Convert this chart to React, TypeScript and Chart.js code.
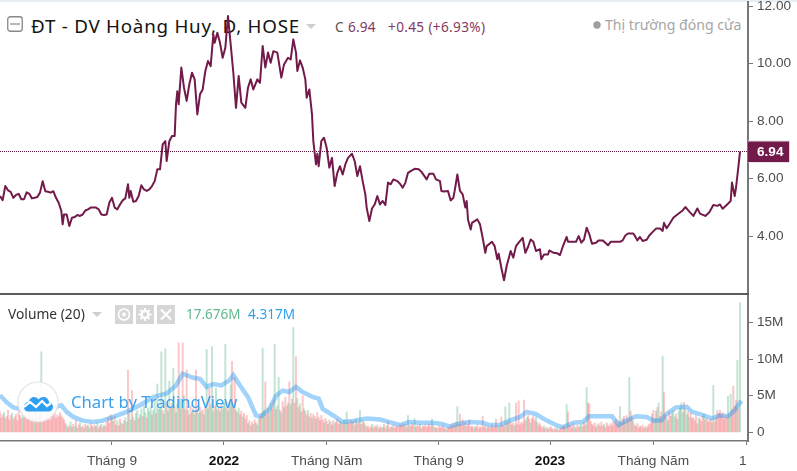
import React, { useEffect, useRef } from "react";
import { Chart, registerables } from "chart.js";

Chart.register(...registerables);

// Trading-day index / close price
const pricePoints: [number, number][] = [
  [0,5.39],[2,5.25],[4,5.74],[6,5.59],[8,5.54],[10,5.33],[12,5.43],[14,5.47],[16,5.28],[18,5.28],[20,5.52],[22,5.47],[24,5.31],[26,5.33],[28,5.36],[30,5.51],[32,5.91],[34,5.56],[36,5.54],[38,5.51],
  [40,5.56],[42,5.33],[44,5.16],[46,4.87],[47,4.41],[48,4.75],[50,4.75],[52,4.35],[54,4.64],[56,4.66],[58,4.73],[60,4.70],[62,4.75],[64,4.89],[66,4.93],[68,4.99],[70,4.99],[72,4.99],[74,4.93],[76,4.75],
  [78,4.73],[80,4.75],[82,5.16],[84,5.33],[86,4.99],[88,4.93],[90,5.10],[92,5.24],[94,5.31],[96,5.80],[97,5.33],[98,5.57],[100,5.19],[102,5.22],[104,5.39],[106,5.77],[108,5.62],[110,5.57],[112,5.62],[114,5.74],
  [116,5.91],[118,6.32],[120,6.32],[122,7.19],[124,7.30],[125,6.61],[127,7.30],[129,7.48],[131,7.48],[132,8.58],[133,9.04],[134,8.58],[136,9.86],[138,9.16],[140,8.70],[142,9.28],[144,9.68],[146,9.45],[148,8.23],[150,8.93],
  [152,9.10],[154,9.74],[156,10.09],[158,9.91],[160,11.01],[161,10.72],[163,11.07],[165,10.72],[167,10.20],[169,10.55],[171,11.65],[173,10.67],[175,9.68],[177,8.46],[179,9.57],[181,8.64],[184,8.46],[186,9.16],[188,9.45],[190,9.10],
  [193,9.45],[195,9.33],[197,10.61],[199,9.86],[201,10.38],[203,10.03],[205,10.43],[208,10.38],[211,9.51],[213,9.97],[216,10.20],[218,10.14],[220,10.84],[222,10.38],[223,9.74],[225,10.11],[227,9.86],[229,9.45],[230,8.81],[232,9.10],
  [234,8.23],[235,7.30],[237,6.49],[238,6.86],[239,6.43],[241,7.30],[243,7.42],[245,7.07],[247,6.38],[249,6.72],[251,5.74],[253,6.20],[255,6.43],[257,6.14],[259,6.49],[261,6.72],[264,6.86],[266,6.61],[268,6.09],[270,6.43],
  [272,5.91],[274,5.45],[275,4.99],[277,4.52],[279,4.96],[281,5.10],[283,5.39],[285,5.10],[287,5.22],[289,5.08],[291,5.86],[293,5.80],[295,5.97],[298,5.91],[300,5.82],[302,5.68],[304,5.85],[306,6.20],[308,6.26],[311,6.34],
  [314,6.32],[316,6.24],[320,5.97],[322,6.17],[325,6.17],[327,5.97],[330,5.91],[331,5.57],[333,5.55],[336,5.57],[338,5.24],[340,5.33],[341,5.57],[343,6.14],[345,5.57],[347,5.45],[349,4.99],[350,5.22],[351,4.58],[353,4.23],
  [354,4.46],[358,4.58],[360,4.41],[362,3.94],[364,3.42],[365,3.65],[369,3.80],[371,3.65],[373,3.19],[374,3.39],[376,2.90],[378,2.46],[380,2.96],[383,3.48],[385,3.25],[387,3.65],[389,3.77],[392,3.94],[394,3.42],[396,3.62],
  [398,3.88],[400,3.80],[402,3.48],[405,3.54],[406,3.19],[408,3.36],[411,3.36],[412,3.50],[415,3.42],[418,3.40],[420,3.34],[422,3.62],[425,3.97],[426,3.80],[430,3.80],[432,3.80],[434,4.00],[436,3.77],[438,3.88],[440,4.29],
  [442,4.06],[444,3.73],[447,3.77],[449,3.85],[452,3.85],[454,3.77],[456,3.68],[458,3.80],[465,3.80],[467,3.85],[469,4.02],[471,4.09],[475,4.09],[476,4.02],[478,3.85],[480,3.97],[482,3.83],[485,3.87],[487,4.02],[489,4.12],
  [492,4.26],[495,4.26],[497,4.18],[498,4.46],[500,4.27],[502,4.41],[505,4.64],[508,4.75],[512,4.89],[514,5.01],[517,4.85],[520,4.70],[523,4.96],[525,4.78],[529,4.70],[532,4.83],[535,5.08],[538,5.05],[540,5.10],[542,4.95],
  [545,5.08],[548,5.22],[549,5.86],[551,5.39],[552,5.68],[554,6.49],[555,6.94],
];

const lastPrice = 6.94;
const lastDay = 561;

// Daily volume in millions
const volumes: number[] = [
  2.8,2.0,2.4,2.7,1.9,2.2,3.0,1.7,2.3,2.6,1.8,2.1,2.5,1.6,2.9,2.3,1.9,2.4,2.0,2.6,
  2.2,1.8,2.7,2.1,2.4,1.9,2.6,3.1,2.0,2.3,2.8,11.0,2.4,1.8,2.2,2.6,2.0,2.3,1.7,2.5,
  2.2,2.6,1.9,2.4,2.1,2.7,2.3,2.0,1.7,1.2,1.0,0.6,0.9,1.4,0.7,1.1,0.8,1.6,0.6,1.0,
  1.3,0.7,0.9,0.5,1.1,0.8,1.0,0.6,1.2,0.9,0.7,1.0,0.8,1.3,0.6,0.9,1.1,0.7,1.0,0.8,
  1.4,2.0,1.2,2.4,2.1,1.5,2.2,1.0,1.6,0.9,1.8,1.3,1.1,1.6,2.0,1.4,8.5,2.6,1.7,5.7,
  2.1,1.6,2.6,3.0,1.9,2.4,3.2,2.2,3.6,2.7,2.0,3.3,2.8,3.5,2.4,3.0,4.5,2.6,6.6,3.1,
  3.4,11.0,3.0,2.5,11.4,3.8,2.9,7.0,3.3,4.0,8.7,3.5,2.7,3.9,12.2,4.6,3.2,12.2,5.0,3.1,
  8.5,3.0,2.4,3.6,2.7,3.2,2.5,8.5,3.0,2.6,3.4,2.8,3.1,2.4,3.5,11.3,3.2,6.0,3.8,11.7,
  2.9,3.6,6.0,3.1,3.4,2.8,3.7,3.2,4.0,12.0,3.3,2.9,4.2,6.5,9.7,3.6,7.5,3.0,2.7,3.3,
  2.4,2.9,2.1,2.6,1.8,2.3,1.2,1.6,0.9,1.4,1.1,1.7,1.3,1.0,1.9,2.2,2.6,11.5,3.0,6.9,
  2.4,3.3,2.8,3.9,3.2,4.4,12.0,3.1,3.6,7.5,3.0,2.7,4.2,3.4,4.8,3.6,4.0,6.9,3.8,4.5,
  14.3,4.0,10.3,4.6,3.4,3.9,2.8,5.0,3.2,2.9,2.4,3.0,2.1,2.6,1.9,2.5,2.2,1.8,2.7,2.0,
  1.6,2.3,1.7,1.3,1.9,1.5,1.1,1.7,1.4,1.0,1.6,1.2,1.4,1.8,1.1,1.5,1.3,1.0,1.7,1.2,
  2.8,1.4,1.1,1.6,1.3,1.5,1.0,1.8,1.2,1.4,3.0,1.1,1.6,1.3,1.0,0.7,0.9,0.5,0.8,1.1,
  0.6,0.9,0.7,1.0,0.5,0.8,0.6,0.7,1.1,0.6,0.9,1.5,0.5,0.8,0.7,1.0,0.6,0.8,0.9,0.7,
  1.0,0.9,1.2,0.8,1.1,0.7,2.3,1.0,0.8,1.2,0.9,1.9,0.7,1.0,0.8,1.1,0.6,0.9,0.8,1.0,
  0.7,0.9,1.1,0.8,1.8,1.0,0.6,0.7,0.5,0.8,0.6,0.7,0.9,0.5,0.6,0.4,0.7,0.6,1.0,0.8,
  1.2,0.9,1.4,3.5,1.1,2.5,1.0,1.7,0.9,1.4,0.8,1.1,1.7,0.7,0.9,0.6,0.8,0.7,1.0,0.5,
  0.8,0.6,2.2,0.7,0.9,0.5,0.8,0.6,0.7,1.0,0.6,0.8,1.8,0.7,0.9,0.6,2.1,1.0,0.8,3.5,
  1.2,1.5,4.0,1.4,1.0,1.3,0.9,4.0,1.1,4.3,1.0,1.4,1.2,4.4,1.6,2.0,2.4,1.8,1.3,1.9,
  2.2,1.6,2.1,1.4,1.0,1.2,0.8,0.6,0.9,0.5,0.7,0.4,0.6,0.8,0.5,0.3,0.6,0.4,0.7,0.3,
  0.5,0.6,0.8,0.9,0.7,3.8,2.8,1.0,0.9,0.6,1.2,0.8,0.5,1.0,0.7,0.9,1.1,0.8,1.4,1.0,
  6.1,4.0,3.9,1.5,1.1,0.9,1.3,0.7,1.0,1.2,0.8,1.4,0.9,1.1,0.7,1.3,1.0,0.8,1.2,0.9,
  1.5,1.2,1.8,1.1,1.6,3.5,1.3,1.9,2.2,1.4,2.3,1.7,7.5,2.9,2.0,1.5,1.0,0.8,1.2,0.6,
  0.9,0.7,1.0,0.5,0.8,0.6,0.9,1.1,1.3,2.5,3.0,1.8,2.9,3.4,4.0,2.2,2.8,10.4,5.4,2.4,
  1.9,1.6,2.8,2.2,2.6,3.0,2.1,2.5,1.8,2.9,3.3,4.0,2.7,4.1,3.2,2.4,2.8,2.1,2.6,1.9,
  2.0,1.6,2.3,1.2,2.0,1.8,1.5,2.2,2.5,1.7,1.9,1.4,1.6,1.8,1.3,6.4,1.5,2.0,3.0,2.6,
  3.0,2.4,2.7,1.8,2.3,2.0,4.9,2.5,5.2,3.1,6.3,3.6,4.4,9.8,3.2,17.676,
];

// u = up day (green bar), d = down day (red bar), one letter per volume
const volumeDirections = [
  "dddudddddudddddddudd","dddddduddddudddddddd","ddddddddddudduddudud","uddudduuddudduddudud",
  "dddduddduddudduuduud","uduuduuduuduuuduuduu","uuduuduuduuduuduudud","duddududuudududuuduu",
  "uduududuuudududududu","dduddduddd","udduudduud","dududduduu","dududdudud","uddududdud","dudduddudd",
  "dddudddudd","duddduddud","uddduddudd","uddduddddu","dduddddudd","uddduddddd","dddudduddd","dudddudddd",
  "ddddudddud","dddddudddd","ddduddddud","ddddddu","ddd","dddddudddd","ddddudddd","u","dduddduddd","ddddduddud",
  "ddudddddud","ddudddddud","dddddudddd","duddduuddd","udddddddud","dddudddddd","dddddudddu","dduddudddd",
  "dddudddddd","duududdudd","uudduuuddu","uuuduududd","ddddudddud","dddddudddd","ddddddududdddudu",
].join("");

// 20-day average of volume, in millions
const volumeAverage: [number, number][] = [
  [0,5.05],[5,4.1],[10,3.4],[15,3.2],[25,3.0],[37,3.2],[46,3.7],[50,2.8],[55,2.1],[62,1.6],[70,1.4],[77,1.6],[85,2.1],[95,2.8],[105,3.7],[115,4.8],[125,5.3],[132,6.4],[137,8.0],[145,7.45],
  [150,7.3],[155,6.2],[160,6.6],[166,6.4],[172,7.1],[175,7.8],[180,6.4],[186,4.8],[192,2.3],[196,2.2],[202,3.2],[207,5.0],[212,5.7],[217,5.5],[222,6.2],[227,5.5],[235,4.8],[239,4.6],[242,3.2],[250,2.3],
  [257,1.4],[265,1.55],[275,1.9],[285,1.75],[292,1.4],[300,1.0],[307,1.4],[315,1.3],[325,1.3],[332,1.1],[337,0.8],[345,1.2],[352,1.4],[362,1.3],[367,1.0],[375,1.0],[382,1.6],[390,2.1],[395,2.8],[402,2.5],
  [410,1.6],[417,1.0],[422,0.7],[430,1.3],[437,1.4],[442,2.2],[452,2.2],[459,2.2],[464,1.0],[470,1.6],[477,2.2],[485,2.1],[490,1.6],[496,1.6],[500,2.5],[507,3.4],[515,3.5],[519,2.8],[525,2.5],[534,1.9],
  [540,2.3],[546,2.2],[551,3.0],[556,4.317],
];

const timeTickDays = [84, 168, 245, 329, 412.5, 490, 560];
const timeTickLabels = ["Tháng 9", "2022", "Tháng Năm", "Tháng 9", "2023", "Tháng Năm", "1  "];
const priceTicks = [4, 6, 8, 10, 12];
const volumeTicks = [0, 5, 10, 15];

const MAROON = "#721a4a";
const AXIS = "#777777";
const LABEL = "#4d4d4d";
const TICK_FONT = "'Liberation Sans', Arial, sans-serif";
const TEXT_FONT = "'Noto Sans', sans-serif";

const noPadding = (s: any) => {
  s.paddingTop = 0;
  s.paddingBottom = 0;
  s.paddingLeft = 0;
  s.paddingRight = 0;
};

const lastPricePlugin = {
  id: "lastPrice",
  afterDraw(chart: any) {
    const y = chart.scales.y.getPixelForValue(lastPrice);
    const x = chart.chartArea.right;
    const ctx = chart.ctx;
    ctx.save();
    ctx.fillStyle = "#d9d9d9";
    ctx.fillRect(x, y - 11, 42, 22);
    ctx.fillStyle = MAROON;
    ctx.fillRect(x, y - 10, 41, 20.5);
    ctx.fillStyle = "#ffffff";
    ctx.font = `bold 13.6px ${TICK_FONT}`;
    ctx.textBaseline = "middle";
    ctx.textAlign = "left";
    ctx.fillText(lastPrice.toFixed(2), x + 9, y + 0.5);
    ctx.restore();
  },
};

const abs = (left: number, top: number, extra: React.CSSProperties = {}): React.CSSProperties => ({
  position: "absolute",
  left,
  top,
  whiteSpace: "nowrap",
  ...extra,
});

function IconBox({ left, kind }: { left: number; kind: string }) {
  return (
    <svg style={abs(left, 305)} width={18} height={19} viewBox="0 0 18 19">
      <rect width="18" height="19" fill="#d6d6d6" />
      {kind === "eye" && (
        <g fill="none" stroke="#ffffff">
          <circle cx="9" cy="9.5" r="5.5" strokeWidth="1.6" />
          <circle cx="9" cy="9.5" r="1.6" fill="#ffffff" />
        </g>
      )}
      {kind === "gear" && (
        <g fill="none" stroke="#ffffff">
          <circle cx="9" cy="9.5" r="3.4" strokeWidth="2.4" />
          <path d="M9 3v3M9 13v3M2.5 9.5h3M12.5 9.5h3M4.4 4.9l2.1 2.1M11.5 12l2.1 2.1M13.6 4.9L11.5 7M6.5 12l-2.1 2.1" strokeWidth="2" />
        </g>
      )}
      {kind === "close" && <path d="M4 4.5l10 10M14 4.5l-10 10" stroke="#ffffff" strokeWidth="2" />}
    </svg>
  );
}

export default function App() {
  const priceRef = useRef<HTMLCanvasElement>(null);
  const volumeRef = useRef<HTMLCanvasElement>(null);

  useEffect(() => {
    const price = new Chart(priceRef.current!, {
      type: "line",
      data: {
        datasets: [
          {
            data: [{ x: 0, y: lastPrice }, { x: lastDay, y: lastPrice }],
            borderColor: "#5a1238",
            borderWidth: 1,
            borderDash: [1, 1],
            pointRadius: 0,
          },
          {
            data: pricePoints.map(([x, y]) => ({ x, y })),
            borderColor: MAROON,
            borderWidth: 2,
            borderJoinStyle: "round",
            pointRadius: 0,
            tension: 0,
          },
        ],
      },
      options: {
        animation: false,
        responsive: false,
        layout: { padding: { top: 2, left: 0, right: 0, bottom: 0 } },
        plugins: { legend: { display: false }, tooltip: { enabled: false } },
        scales: {
          x: { type: "linear", min: 0, max: lastDay, display: false },
          y: {
            position: "right",
            min: 2.02,
            max: 12.14,
            afterFit: (s: any) => { s.width = 49; noPadding(s); },
            afterBuildTicks: (s: any) => { s.ticks = priceTicks.map((value) => ({ value })); },
            grid: { drawOnChartArea: false, drawTicks: true, tickLength: 5, color: AXIS },
            border: { color: AXIS, width: 2 },
            ticks: {
              color: LABEL,
              padding: 4,
              font: { family: TICK_FONT, size: 13.6 },
              callback: (v: any) => Number(v).toFixed(2),
            },
          },
        },
      },
      plugins: [lastPricePlugin],
    } as any);

    const volume = new Chart(volumeRef.current!, {
      type: "bar",
      data: {
        datasets: [
          {
            type: "line",
            data: volumeAverage.map(([x, y]) => ({ x, y })),
            borderColor: "rgba(33,150,243,0.42)",
            borderWidth: 4.5,
            pointRadius: 0,
            tension: 0,
            order: 0,
          },
          {
            type: "bar",
            data: volumes.map((y, x) => ({ x, y })),
            backgroundColor: volumes.map((_, i) =>
              volumeDirections[i] === "u" ? "rgba(90,180,130,0.36)" : "rgba(240,90,95,0.34)"
            ),
            barThickness: 1.3,
            grouped: false,
            order: 1,
          },
        ],
      },
      options: {
        animation: false,
        responsive: false,
        layout: { padding: { top: 1, left: 0, right: 0, bottom: 0 } },
        plugins: { legend: { display: false }, tooltip: { enabled: false } },
        scales: {
          x: {
            type: "linear",
            min: 0,
            max: lastDay,
            offset: false,
            afterFit: (s: any) => { s.height = 30; noPadding(s); },
            afterBuildTicks: (s: any) => { s.ticks = timeTickDays.map((value) => ({ value })); },
            grid: { drawOnChartArea: false, drawTicks: true, tickLength: 4, color: AXIS, offset: false },
            border: { color: AXIS, width: 1.5 },
            ticks: {
              autoSkip: false,
              maxRotation: 0,
              padding: 8,
              color: (ctx: any) => (timeTickLabels[ctx.index]?.startsWith("20") ? "#111111" : LABEL),
              font: (ctx: any) => ({
                family: TICK_FONT,
                size: 13.7,
                weight: timeTickLabels[ctx.index]?.startsWith("20") ? "bold" : "normal",
              }),
              callback: (_: any, i: number) => timeTickLabels[i],
            },
          },
          y: {
            position: "right",
            min: -1.18,
            max: 18.74,
            afterFit: (s: any) => { s.width = 49; noPadding(s); },
            afterBuildTicks: (s: any) => { s.ticks = volumeTicks.map((value) => ({ value })); },
            grid: { drawOnChartArea: false, drawTicks: true, tickLength: 5, color: AXIS },
            border: { color: AXIS, width: 2 },
            ticks: {
              color: LABEL,
              padding: 4,
              font: { family: TICK_FONT, size: 13.6 },
              callback: (v: any) => (Number(v) === 0 ? "0" : `${v}M`),
            },
          },
        },
      },
    } as any);

    return () => {
      price.destroy();
      volume.destroy();
    };
  }, []);

  return (
    <div style={{ position: "fixed", left: 0, top: 0, width: 797, height: 471, background: "#ffffff", overflow: "hidden", fontFamily: TEXT_FONT }}>
      <div style={abs(0, 0, { width: 797, height: 2, background: "#e8edf1" })} />

      {/* header sits under the line, as in the picture */}
      <svg style={abs(7, 16)} width={16} height={16} viewBox="0 0 16 16">
        <rect x="0.75" y="0.75" width="14.5" height="14.5" rx="2.5" fill="#fff" stroke="#888" strokeWidth="1.3" />
        <path d="M3 8h10" stroke="#999" strokeWidth="1.4" />
      </svg>
      <div style={abs(31, 13, { fontSize: 18.8, lineHeight: "26px", color: "#131313", letterSpacing: 0.75 })}>ĐT - DV Hoàng Huy, D, HOSE</div>
      <svg style={abs(306, 24)} width={10} height={5}><path d="M0 0h10L5 5z" fill="#cfcfcf" /></svg>
      <div style={abs(335, 17, { fontSize: 13.6, lineHeight: "20px", color: "#555" })}>C</div>
      <div style={abs(348, 17, { fontSize: 13.6, lineHeight: "20px", color: "#84395f", letterSpacing: 0.2 })}>6.94</div>
      <div style={abs(388, 17, { fontSize: 13.6, lineHeight: "20px", color: "#84395f", letterSpacing: 0.35 })}>+0.45 (+6.93%)</div>
      <svg style={abs(593, 21)} width={8} height={8}><circle cx="4" cy="4" r="3.7" fill="#9e9e9e" /></svg>
      <div style={abs(605, 15, { fontSize: 14.1, lineHeight: "20px", color: "#a6a6a6" })}>Thị trường đóng cửa</div>

      <canvas ref={priceRef} width={797} height={293} style={abs(0, 0, { display: "block", width: 797, height: 293 })} />
      <canvas ref={volumeRef} width={797} height={177} style={abs(0, 294, { display: "block", width: 797, height: 177 })} />

      <div style={abs(0, 293, { width: 749, height: 2, background: "#5a5a5a" })} />

      <div style={abs(8, 304, { fontSize: 13.8, lineHeight: "20px", color: "#333" })}>Volume (20)</div>
      <svg style={abs(92, 312)} width={10} height={5}><path d="M0 0h10L5 5z" fill="#cfcfcf" /></svg>
      <IconBox left={115} kind="eye" />
      <IconBox left={136} kind="gear" />
      <IconBox left={157} kind="close" />
      <div style={abs(186, 304, { fontSize: 13.5, lineHeight: "20px", color: "#62b98f" })}>17.676M</div>
      <div style={abs(248, 304, { fontSize: 13.6, lineHeight: "20px", color: "#2f9ff0" })}>4.317M</div>

      <svg style={abs(17, 381)} width={42} height={42} viewBox="0 0 42 42">
        <circle cx="21" cy="21" r="20" fill="rgba(255,255,255,0.88)" stroke="#e2e2e2" strokeWidth="1.2" />
        <path d="M7 26c0-3 2-5 4.5-5 .7-3 3-5 5.500-5 2 0 3.500 1 4.500 2.500 1-1.500 2.800-2.500 5-2.500 3 0 5 2 5.500 5 2.500.5 4 2.300 4 5 0 2.700-2 4.500-4.500 4.500H11c-2.400 0-4-2-4-4.500z" fill="#2f9ff0" />
        <path d="M7 26l6-5 6 5 6-6 5 5 4-3" fill="none" stroke="#ffffff" strokeWidth="2.200" />
      </svg>
      <div style={abs(71, 389, { fontSize: 16.7, lineHeight: "26px", color: "#3aa0ee" })}>Chart by TradingView</div>
    </div>
  );
}
